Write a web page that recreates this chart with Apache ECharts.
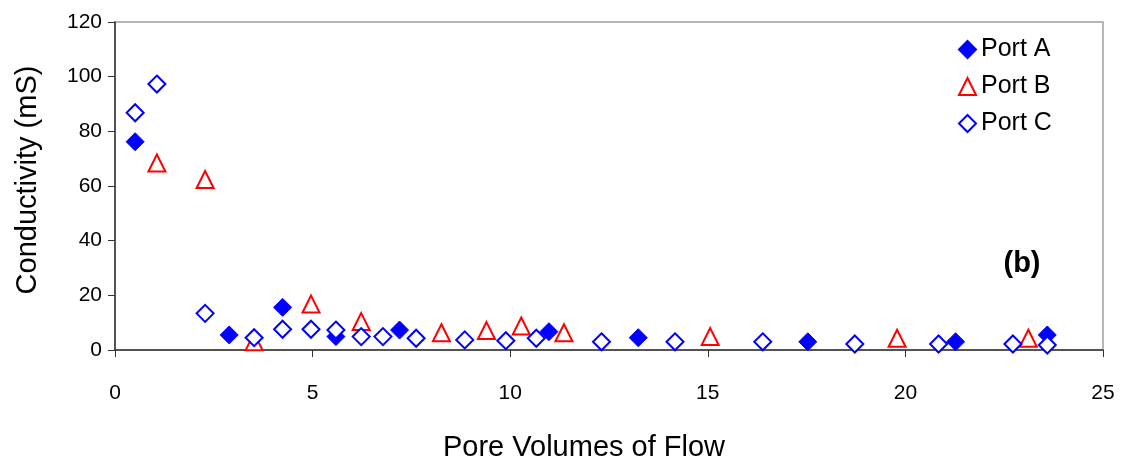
<!DOCTYPE html>
<html>
<head>
<meta charset="utf-8">
<script src="https://cdn.jsdelivr.net/npm/echarts@6/dist/echarts.min.js"></script>
<style>
  html, body { margin: 0; padding: 0; background: #fff; }
  #chart { width: 1124px; height: 468px; }
</style>
</head>
<body>
<div id="chart"></div>
<script>
// values: [pore volumes, conductivity mS]
const portA = [
  [0.51, 76.2], [2.89, 5.5], [4.24, 15.6], [5.59, 4.9], [7.2, 7.3],
  [10.98, 6.7], [13.24, 4.5], [17.53, 3.0], [21.27, 3.0], [23.59, 5.5]
];
const portB = [
  [1.06, 68.4], [2.28, 62.4], [3.52, 3.0], [4.96, 16.8], [6.23, 10.4],
  [8.26, 6.3], [9.4, 7.1], [10.28, 8.8], [11.36, 6.3], [15.06, 4.9],
  [19.79, 4.3], [23.11, 4.3]
];
const portC = [
  [0.51, 86.8], [1.06, 97.3], [2.28, 13.4], [3.52, 4.5], [4.24, 7.6],
  [4.96, 7.6], [5.59, 7.3], [6.23, 4.9], [6.78, 4.9], [7.62, 4.3],
  [8.85, 3.7], [9.89, 3.4], [10.66, 4.3], [12.31, 3.0], [14.17, 3.0],
  [16.39, 3.0], [18.72, 2.2], [20.84, 2.2], [22.72, 2.2], [23.59, 1.8]
];
const xLabel = 'Pore Volumes of Flow';
const yLabel = 'Conductivity (mS)';
const panelTag = '(b)';

const font = 'Liberation Sans, Arial, sans-serif';
const chart = echarts.init(document.getElementById('chart'));

chart.setOption({
  animation: false,
  backgroundColor: '#fff',
  grid: {
    left: 115, right: 21, top: 22, bottom: 118,
    show: true, borderColor: '#a0a0a0', borderWidth: 1.5
  },
  legend: {
    orient: 'vertical',
    left: 953, top: 32,
    itemGap: 12, itemWidth: 17, itemHeight: 17,
    textStyle: { fontFamily: font, fontSize: 25, color: '#000' },
    data: ['Port A', 'Port B', 'Port C']
  },
  graphic: [
    {
      type: 'text', x: 1022, y: 264,
      style: { text: panelTag, fontFamily: font, fontSize: 29, fontWeight: 'bold', fill: '#000',
        align: 'center', verticalAlign: 'middle' }
    },
    {
      type: 'text', x: 584, y: 448,
      style: { text: xLabel, fontFamily: font, fontSize: 29, fill: '#000',
        align: 'center', verticalAlign: 'middle' }
    },
    {
      type: 'text', x: 28, y: 180, rotation: Math.PI / 2,
      style: { text: yLabel, fontFamily: font, fontSize: 29, fill: '#000',
        align: 'center', verticalAlign: 'middle' }
    }
  ],
  xAxis: {
    type: 'value', min: 0, max: 25, interval: 5,
    axisLine: { show: true, onZero: false, lineStyle: { color: '#333', width: 1.5 } },
    axisTick: { show: true, length: 7, lineStyle: { color: '#333' } },
    axisLabel: { fontFamily: font, fontSize: 21, color: '#000', margin: 33 },
    splitLine: { show: false }
  },
  yAxis: {
    type: 'value', min: 0, max: 120, interval: 20,
    axisLine: { show: true, lineStyle: { color: '#333', width: 1.5 } },
    axisTick: { show: true, length: 7, lineStyle: { color: '#333' } },
    axisLabel: { fontFamily: font, fontSize: 21, color: '#000', margin: 13 },
    splitLine: { show: false }
  },
  series: [
    {
      name: 'Port A', type: 'scatter', data: portA,
      symbol: 'diamond', symbolSize: 18,
      itemStyle: { color: '#0000ff', borderColor: '#0000ff', borderWidth: 1, opacity: 1 }
    },
    {
      name: 'Port B', type: 'scatter', data: portB,
      symbol: 'triangle', symbolSize: 17,
      itemStyle: { color: '#fff', borderColor: '#ff0000', borderWidth: 2, opacity: 1 }
    },
    {
      name: 'Port C', type: 'scatter', data: portC,
      symbol: 'diamond', symbolSize: 17,
      itemStyle: { color: '#fff', borderColor: '#0000ff', borderWidth: 2, opacity: 1 }
    }
  ]
});
</script>
</body>
</html>
